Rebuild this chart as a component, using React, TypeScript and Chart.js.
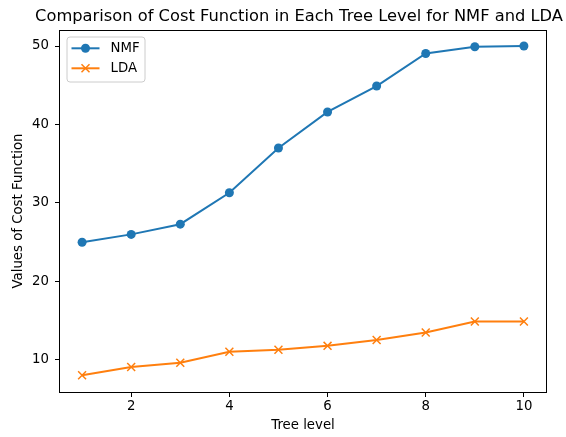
import React, { useEffect, useRef } from "react";
import { Chart, registerables } from "chart.js";

Chart.register(...registerables);

const treeLevels = [1, 2, 3, 4, 5, 6, 7, 8, 9, 10];
const nmfValues = [25.0, 26.0, 27.3, 31.3, 37.0, 41.6, 44.9, 49.05, 49.9, 50.0];
const ldaValues = [8.05, 9.1, 9.65, 11.05, 11.3, 11.8, 12.55, 13.5, 14.9, 14.9];
const xTickValues = [2, 4, 6, 8, 10];
const yTickValues = [10, 20, 30, 40, 50];
const seriesNames = ["NMF", "LDA"];
const titleText = "Comparison of Cost Function in Each Tree Level for NMF and LDA";
const xLabel = "Tree level";
const yLabel = "Values of Cost Function";

const FONT = "'DejaVu Sans', sans-serif";
const FS = 13.3;
const BLUE = "#1f77b4";
const ORANGE = "#ff7f0e";

const decorPlugin = {
  id: "decor",
  afterDraw(chart: any) {
    const ctx = chart.ctx;
    const a = chart.chartArea;
    ctx.save();
    // frame
    ctx.strokeStyle = "#000";
    ctx.lineWidth = 1;
    ctx.strokeRect(Math.round(a.left) - 0.5, Math.round(a.top) + 0.5, Math.round(a.right - a.left) + 1, Math.round(a.bottom - a.top));
    // title
    ctx.fillStyle = "#000";
    ctx.font = `16.3px ${FONT}`;
    ctx.textAlign = "center";
    ctx.textBaseline = "alphabetic";
    ctx.fillText(titleText, (a.left + a.right) / 2 - 4, 21);
    // legend
    const lx = a.left + 6.5;
    const ly = a.top + 6.5;
    const w = 78;
    const h = 45;
    ctx.beginPath();
    (ctx as any).roundRect(lx + 0.5, ly + 0.5, w, h, 3);
    ctx.fillStyle = "rgba(255,255,255,0.8)";
    ctx.fill();
    ctx.strokeStyle = "#cccccc";
    ctx.lineWidth = 1;
    ctx.stroke();
    chart.data.datasets.forEach((ds: any, i: number) => {
      const y = ly + 11.8 + i * 20;
      ctx.strokeStyle = ds.borderColor;
      ctx.lineWidth = 2;
      ctx.beginPath();
      ctx.moveTo(lx + 5, y);
      ctx.lineTo(lx + 33, y);
      ctx.stroke();
      const mx = lx + 19;
      if (ds.pointStyle === "circle") {
        ctx.fillStyle = ds.borderColor;
        ctx.beginPath();
        ctx.arc(mx, y, 4.5, 0, Math.PI * 2);
        ctx.fill();
      } else {
        ctx.lineWidth = 1.5;
        ctx.beginPath();
        ctx.moveTo(mx - 4, y - 4);
        ctx.lineTo(mx + 4, y + 4);
        ctx.moveTo(mx - 4, y + 4);
        ctx.lineTo(mx + 4, y - 4);
        ctx.stroke();
      }
      ctx.fillStyle = "#000";
      ctx.font = `${FS}px ${FONT}`;
      ctx.textAlign = "left";
      ctx.textBaseline = "middle";
      ctx.fillText(ds.label, lx + 44, y);
    });
    ctx.restore();
  },
};

export default function App() {
  const ref = useRef<HTMLCanvasElement | null>(null);
  useEffect(() => {
    if (!ref.current) return;
    const chart = new Chart(ref.current, {
      type: "line",
      data: {
        datasets: [
          {
            label: seriesNames[0],
            data: treeLevels.map((x, i) => ({ x, y: nmfValues[i] })),
            borderColor: BLUE,
            backgroundColor: BLUE,
            borderWidth: 2,
            pointStyle: "circle",
            pointRadius: 4.5,
            pointBorderWidth: 0,
            pointBackgroundColor: BLUE,
            tension: 0,
          },
          {
            label: seriesNames[1],
            data: treeLevels.map((x, i) => ({ x, y: ldaValues[i] })),
            borderColor: ORANGE,
            backgroundColor: ORANGE,
            borderWidth: 2,
            pointStyle: "crossRot",
            pointRadius: 5.6,
            pointBorderWidth: 1.5,
            pointBorderColor: ORANGE,
            tension: 0,
          },
        ],
      },
      options: {
        animation: false,
        responsive: false,
        maintainAspectRatio: false,
        layout: { padding: { top: 30, right: 20, bottom: 0, left: 0 } },
        plugins: {
          legend: { display: false },
          title: { display: false },
          tooltip: { enabled: false },
        },
        scales: {
          x: {
            type: "linear",
            min: 0.55,
            max: 10.45,
            afterFit: (s: any) => {
              s.height = 45;
            },
            afterBuildTicks: (s: any) => {
              s.ticks = xTickValues.map((v) => ({ value: v }));
            },
            grid: { drawOnChartArea: false, drawTicks: true, tickLength: 5, color: "#000" },
            border: { display: false },
            ticks: { color: "#000", font: { family: FONT, size: FS }, padding: 2, maxRotation: 0 },
            title: {
              display: true,
              text: xLabel,
              color: "#000",
              font: { family: FONT, size: FS },
              padding: { top: 3, bottom: 3 },
            },
          },
          y: {
            type: "linear",
            min: 5.92,
            max: 52.04,
            afterFit: (s: any) => {
              s.width = 60;
            },
            afterBuildTicks: (s: any) => {
              s.ticks = yTickValues.map((v) => ({ value: v }));
            },
            grid: { drawOnChartArea: false, drawTicks: true, tickLength: 5, color: "#000" },
            border: { display: false },
            ticks: { color: "#000", font: { family: FONT, size: FS }, padding: 6 },
            title: {
              display: true,
              text: yLabel,
              color: "#000",
              font: { family: FONT, size: FS },
              padding: { top: 10.5, bottom: 10.5 },
            },
          },
        },
      },
      plugins: [decorPlugin],
    } as any);
    return () => chart.destroy();
  }, []);
  return (
    <div style={{ position: "fixed", left: 0, top: 0, width: 566, height: 437, background: "#fff" }}>
      <canvas ref={ref} width={566} height={437} style={{ width: 566, height: 437 }} />
    </div>
  );
}
